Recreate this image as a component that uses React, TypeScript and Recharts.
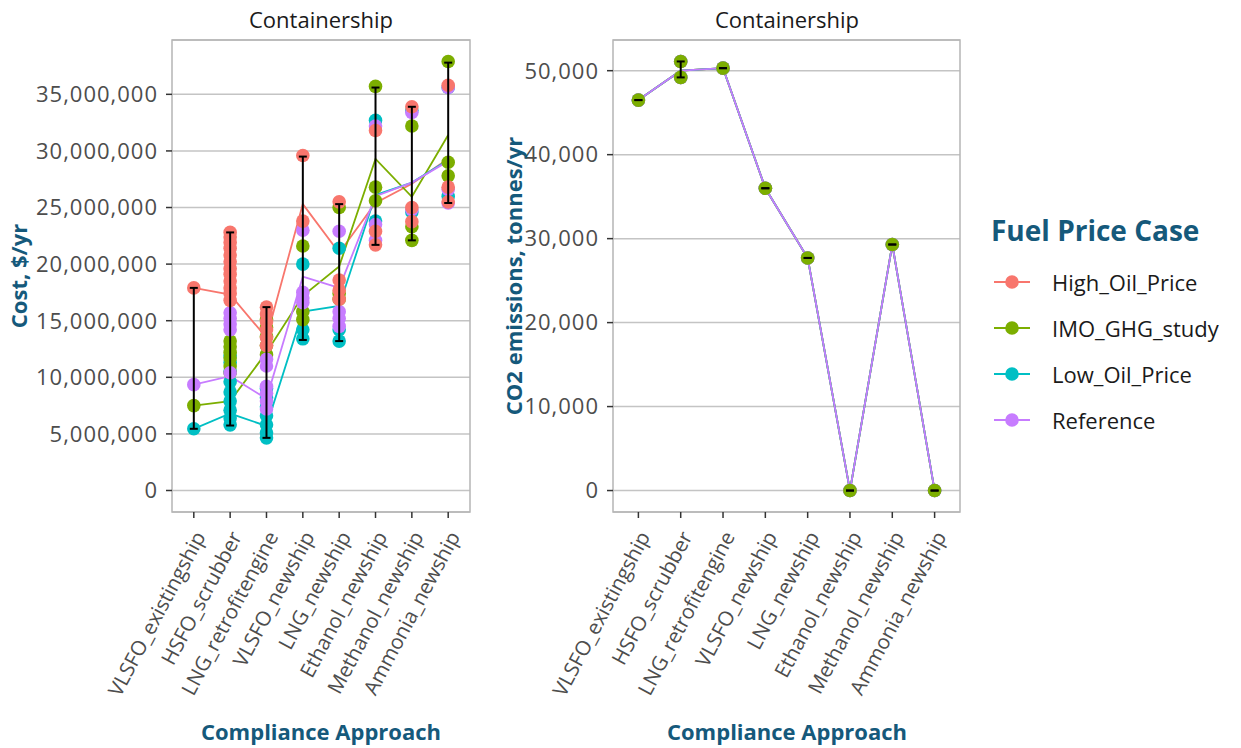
import React from 'react';
import { ComposedChart, Scatter, Line, XAxis, YAxis, CartesianGrid, ErrorBar, ReferenceArea } from 'recharts';

const categories = [
  'VLSFO_existingship',
  'HSFO_scrubber',
  'LNG_retrofitengine',
  'VLSFO_newship',
  'LNG_newship',
  'Ethanol_newship',
  'Methanol_newship',
  'Ammonia_newship',
];
const cases = ['High_Oil_Price', 'IMO_GHG_study', 'Low_Oil_Price', 'Reference'];
const caseColors = ['#F8766D', '#7CAE00', '#00BFC4', '#C77CFF'];

// cost, million $/yr - one list per compliance approach
const costHigh = [
  [17.9],
  [22.8, 22.4, 21.9, 21.4, 20.8, 20.2, 19.6, 19.1, 18.5, 17.9, 17.4, 16.8],
  [16.2, 15.6, 14.9, 14.2, 13.5, 12.8],
  [29.6, 23.8],
  [25.5, 18.6, 17.7, 16.9],
  [31.8, 22.9, 21.7],
  [33.9, 25.0, 23.75],
  [35.8, 26.8, 25.5],
];
const costImo = [
  [7.5],
  [13.2, 12.7, 12.2, 11.7, 11.0, 10.4],
  [15.1, 14.4, 13.6, 12.8, 12.0],
  [21.6, 15.8, 15.1],
  [25.0, 17.4, 16.9],
  [35.7, 26.8, 25.6],
  [32.2, 23.3, 22.1],
  [37.9, 29.0, 27.8],
];
const costLow = [
  [5.45],
  [11.9, 11.3, 10.5, 9.6, 8.7, 7.9, 7.1, 6.4, 5.8],
  [9.0, 8.2, 7.4, 6.6, 5.8, 5.1, 4.65],
  [20.0, 14.2, 13.4],
  [21.4, 14.2, 13.2],
  [32.7, 23.8],
  [33.6, 24.6],
  [35.6, 26.0],
];
const costRef = [
  [9.35],
  [15.7, 15.2, 14.7, 14.2, 10.4],
  [11.6, 11.0, 9.2, 8.6, 7.9, 7.2],
  [23.0, 17.5, 17.0, 16.6],
  [22.9, 15.8, 15.2, 14.5],
  [32.2, 23.5, 22.1],
  [33.4, 24.8],
  [35.6, 26.6, 25.4],
];

// mean lines, million $/yr
const costMeanHigh = [17.9, 17.3, 13.5, 25.3, 21.0, 25.4, 27.1, 29.3];
const costMeanImo = [7.5, 7.9, 12.2, 17.2, 19.8, 29.3, 25.95, 31.4];
const costMeanLow = [5.45, 6.8, 5.7, 15.8, 16.3, 26.1, 27.2, 29.2];
const costMeanRef = [9.35, 10.1, 8.1, 18.9, 17.9, 26.0, 27.2, 29.1];

const costBarMin = [5.45, 5.74, 4.65, 13.3, 13.2, 21.7, 22.1, 25.4];
const costBarMax = [17.9, 22.8, 16.2, 29.5, 25.3, 35.6, 33.9, 37.8];

// CO2 emissions, tonnes/yr (same for every fuel price case)
const co2Points = [[46500], [51100, 49200], [50300], [36000], [27700], [0], [29300], [0]];
const co2Mean = [46500, 50000, 50300, 36000, 27700, 0, 29300, 0];
const co2BarMin = [46500, 49200, 50300, 36000, 27700, 0, 29300, 0];
const co2BarMax = [46500, 51100, 50300, 36000, 27700, 0, 29300, 0];

const costTicks = [0, 5000000, 10000000, 15000000, 20000000, 25000000, 30000000, 35000000];
const co2Ticks = [0, 10000, 20000, 30000, 40000, 50000];

const teal = '#15597b';
const font = "'Open Sans', sans-serif";

const toPoints = (vals: number[][], k: number) =>
  vals.flatMap((arr, i) => arr.map((v) => ({ x: i + 1, y: v * k })));
const toLine = (vals: number[], k: number) => vals.map((v, i) => ({ x: i + 1, y: v * k }));
const toBars = (lo: number[], hi: number[], k: number) =>
  lo.map((v, i) => ({ x: i + 1, y: v * k, err: [0, (hi[i] - v) * k] }));

const XTick = (props: any) => {
  const { x, y, payload } = props;
  return (
    <g transform={`translate(${x + 6},${y + 13})`}>
      <text transform="rotate(-62)" textAnchor="end" dy="0.35em" fontSize={20.5} fill="#4d4d4d" fontFamily={font}>
        {categories[payload.value - 1]}
      </text>
    </g>
  );
};

const dot = (color: string) => (p: any) => <circle cx={p.cx} cy={p.cy} r={6.8} fill={color} />;

type PanelProps = {
  left: number;
  width: number;
  yAxisWidth: number;
  points: number[][][];
  means: number[][];
  barMin: number[];
  barMax: number[];
  k: number;
  domain: [number, number];
  ticks: number[];
  order: number[];
};

function Panel({ left, width, yAxisWidth, points, means, barMin, barMax, k, domain, ticks, order }: PanelProps) {
  return (
    <>
      <div style={{ position: 'absolute', left, top: 0 }}>
        <ComposedChart width={width} height={748} margin={{ top: 40, right: 10, bottom: 0, left: 0 }}>
          <CartesianGrid vertical={false} stroke="#c4c4c4" strokeWidth={1.5} />
          <XAxis
            type="number"
            dataKey="x"
            domain={[0.4, 8.6]}
            ticks={[1, 2, 3, 4, 5, 6, 7, 8]}
            interval={0}
            height={236}
            axisLine={false}
            tickLine={{ stroke: '#333', strokeWidth: 1.5 }}
            tickSize={6}
            tick={(p: any) => <XTick {...p} />}
            allowDataOverflow
          />
          <YAxis
            type="number"
            dataKey="y"
            domain={domain}
            ticks={ticks}
            interval={0}
            width={yAxisWidth}
            axisLine={false}
            tickLine={{ stroke: '#333', strokeWidth: 1.5 }}
            tickSize={6}
            tickMargin={8}
            tick={{ fontSize: 22, fill: '#4d4d4d', fontFamily: font, letterSpacing: 1 }}
            tickFormatter={(v: number) => v.toLocaleString('en-US')}
            allowDataOverflow
          />
          <ReferenceArea x1={0.4} x2={8.6} y1={domain[0]} y2={domain[1]} fill="none" stroke="#b5b5b5" strokeWidth={1.5} />
          {order.map((i) => (
            <Scatter
              key={'p' + i}
              name={cases[i]}
              data={toPoints(points[i], k)}
              dataKey="y"
              fill={caseColors[i]}
              shape={dot(caseColors[i])}
              isAnimationActive={false}
            />
          ))}
          {[0, 1, 2, 3].map((i) => (
            <Line
              key={'l' + i}
              data={toLine(means[i], k)}
              dataKey="y"
              stroke={caseColors[i]}
              strokeWidth={1.8}
              dot={false}
              activeDot={false}
              isAnimationActive={false}
            />
          ))}
        </ComposedChart>
      </div>
      {/* error bars on their own layer so they sit above the points */}
      <div style={{ position: 'absolute', left, top: 0, pointerEvents: 'none' }}>
        <ComposedChart width={width} height={748} margin={{ top: 40, right: 10, bottom: 236, left: yAxisWidth }}>
          <XAxis type="number" dataKey="x" domain={[0.4, 8.6]} hide allowDataOverflow />
          <YAxis type="number" dataKey="y" domain={domain} hide allowDataOverflow />
          <Scatter data={toBars(barMin, barMax, k)} dataKey="y" shape={() => <g />} isAnimationActive={false}>
            <ErrorBar dataKey="err" direction="y" width={4} stroke="#000" strokeWidth={2} />
          </Scatter>
        </ComposedChart>
      </div>
    </>
  );
}

const centered = (cx: number, cy: number, text: string, style: React.CSSProperties, rotate = false) => (
  <div
    style={{
      position: 'absolute',
      left: cx,
      top: cy,
      transform: `translate(-50%, -50%)${rotate ? ' rotate(-90deg)' : ''}`,
      whiteSpace: 'nowrap',
      lineHeight: 1,
      ...style,
    }}
  >
    {text}
  </div>
);

export default function App() {
  const titleStyle = { fontSize: 22, color: '#1a1a1a' };
  const axisTitle = { fontSize: 22, fontWeight: 700, color: teal };
  return (
    <div style={{ position: 'fixed', left: 0, top: 0, width: 1241, height: 748, background: '#fff', fontFamily: font }}>
      <Panel
        left={0}
        width={480}
        yAxisWidth={172}
        points={[costHigh, costImo, costLow, costRef]}
        means={[costMeanHigh, costMeanImo, costMeanLow, costMeanRef]}
        barMin={costBarMin}
        barMax={costBarMax}
        k={1000000}
        domain={[-1900000, 39800000]}
        ticks={costTicks}
        order={[2, 1, 3, 0]}
      />
      <Panel
        left={480}
        width={490}
        yAxisWidth={133}
        points={[co2Points, co2Points, co2Points, co2Points]}
        means={[co2Mean, co2Mean, co2Mean, co2Mean]}
        barMin={co2BarMin}
        barMax={co2BarMax}
        k={1}
        domain={[-2555, 53655]}
        ticks={co2Ticks}
        order={[0, 2, 3, 1]}
      />
      {centered(321, 19, 'Containership', titleStyle)}
      {centered(787, 19, 'Containership', titleStyle)}
      {centered(321, 731, 'Compliance Approach', axisTitle)}
      {centered(787, 731, 'Compliance Approach', axisTitle)}
      {centered(18, 276, 'Cost, $/yr', axisTitle, true)}
      {centered(513, 276, 'CO2 emissions, tonnes/yr', axisTitle, true)}
      <div style={{ position: 'absolute', left: 991, top: 214, fontSize: 28, fontWeight: 700, color: teal, lineHeight: 1.2, whiteSpace: 'nowrap' }}>
        Fuel Price Case
      </div>
      {cases.map((c, i) => (
        <div key={c} style={{ position: 'absolute', left: 992, top: 282 + i * 46 - 15, height: 30, display: 'flex', alignItems: 'center' }}>
          <svg width={40} height={30}>
            <line x1={2} y1={15} x2={38} y2={15} stroke={caseColors[i]} strokeWidth={2} />
            <circle cx={20} cy={15} r={6.8} fill={caseColors[i]} />
          </svg>
          <span style={{ marginLeft: 20, fontSize: 22, color: '#1a1a1a', whiteSpace: 'nowrap' }}>{c}</span>
        </div>
      ))}
    </div>
  );
}
